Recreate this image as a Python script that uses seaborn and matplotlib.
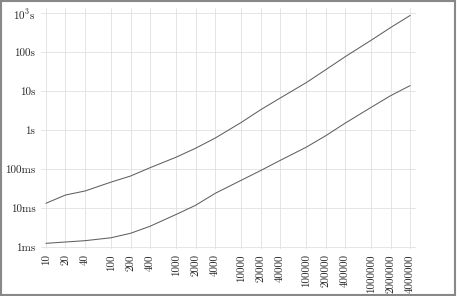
from matplotlib import pyplot as plt
from matplotlib.patches import Rectangle
import numpy as np
import pandas as pd
import seaborn as sns

# problem sizes and measured run times (seconds)
sizes = [10, 20, 40, 100, 200, 400, 1000, 2000, 4000, 10000, 20000, 40000,
         100000, 200000, 400000, 1000000, 2000000, 4000000]
slow_times = [0.0132, 0.0215, 0.0273, 0.046, 0.066, 0.108, 0.20, 0.34, 0.62,
              1.55, 3.3, 6.6, 16.3, 35, 76, 200, 425, 870]
fast_times = [0.00124, 0.00134, 0.00145, 0.00172, 0.00224, 0.0034, 0.0068,
              0.0117, 0.0237, 0.051, 0.091, 0.166, 0.36, 0.71, 1.5, 3.8, 7.6,
              13.8]

y_ticks = [1e-3, 1e-2, 1e-1, 1, 10, 100, 1000]
y_labels = ["1ms", "10ms", "100ms", "1s", "10s", "100s", r"$10^3$s"]
x_labels = [str(s) for s in sizes]

df = pd.DataFrame({
    "n": sizes * 2,
    "time": slow_times + fast_times,
    "series": ["slow"] * len(sizes) + ["fast"] * len(sizes),
})

sns.set_style("white")
plt.rcParams["font.family"] = ["cmr10", "DejaVu Serif"]
plt.rcParams["mathtext.fontset"] = "cm"
plt.rcParams["axes.formatter.use_mathtext"] = True

fig = plt.figure(figsize=(4.57, 2.96), dpi=100)
ax = fig.add_axes([0.0897, 0.159, 0.821, 0.814])

sns.lineplot(data=df, x="n", y="time", hue="series",
             palette={"slow": "#606060", "fast": "#606060"},
             linewidth=0.75, legend=False, ax=ax)

ax.set_xscale("log")
ax.set_yscale("log")
ax.set_xlim(8.4, 4.95e6)
ax.set_ylim(8.9e-4, 1350)

ax.set_xticks(sizes)
ax.set_xticklabels(x_labels, rotation=90, fontsize=8)
ax.set_yticks(y_ticks)
ax.set_yticklabels(y_labels, fontsize=8)
ax.minorticks_off()
ax.tick_params(length=0, pad=4)

ax.grid(True, color="#e0e0e0", linewidth=0.6)
for s in ax.spines.values():
    s.set_visible(False)
ax.set_xlabel("")
ax.set_ylabel("")

fig.patches.append(Rectangle((0.002, 0.004), 0.994, 0.992,
                             transform=fig.transFigure, fill=False,
                             edgecolor="#888888", linewidth=1.5))

fig.savefig("out.png", dpi=100)
